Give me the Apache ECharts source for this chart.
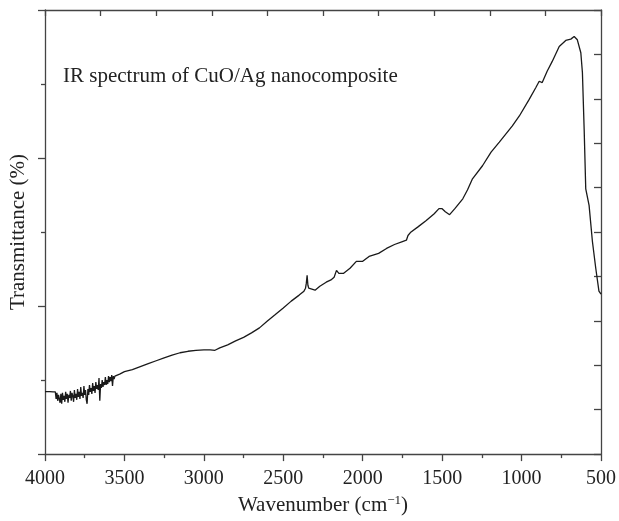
<!DOCTYPE html>
<html>
<head>
<meta charset="utf-8">
<style>
  html, body { margin: 0; padding: 0; background: #fff; }
  #chart { width: 619px; height: 521px; }
</style>
<script src="https://cdn.jsdelivr.net/npm/echarts@6/dist/echarts.min.js"></script>
</head>
<body>
<div id="chart"></div>
<script>
// FT-IR spectrum of the CuO/Ag nanocomposite (wavenumber in cm-1, transmittance in %)
const wavenumbers = [
  4000, 3970, 3950, 3940, 3935, 3930, 3925, 3920, 3915, 3910,
  3905, 3900, 3895, 3890, 3885, 3880, 3875, 3870, 3865, 3860,
  3855, 3850, 3845, 3840, 3835, 3830, 3825, 3820, 3815, 3810,
  3805, 3800, 3795, 3790, 3785, 3780, 3775, 3770, 3765, 3760,
  3755, 3750, 3745, 3740, 3735, 3730, 3725, 3720, 3715, 3710,
  3705, 3700, 3695, 3690, 3685, 3680, 3675, 3670, 3665, 3660,
  3655, 3650, 3645, 3640, 3635, 3630, 3625, 3620, 3615, 3610,
  3605, 3600, 3595, 3590, 3585, 3580, 3575, 3570, 3565, 3560,
  3550, 3530, 3500, 3450, 3400, 3350, 3300, 3250, 3200, 3150,
  3100, 3050, 3000, 2960, 2930, 2900, 2850, 2800, 2750, 2700,
  2650, 2600, 2550, 2500, 2450, 2400, 2370, 2360, 2355, 2350,
  2345, 2340, 2330, 2300, 2270, 2230, 2200, 2180, 2165, 2150,
  2120, 2080, 2040, 2000, 1960, 1900, 1850, 1800, 1750, 1725,
  1715, 1700, 1650, 1600, 1550, 1520, 1500, 1480, 1453, 1420,
  1370, 1340, 1309, 1246, 1192, 1140, 1058, 1014, 952, 910,
  889, 870, 839, 807, 763, 722, 690, 669, 649, 627,
  617, 606, 596, 575, 554, 533, 513, 500
];
const transmittance = [
  6.34, 6.34, 6.30, 6.24, 6.30, 5.60, 6.20, 5.40, 6.00, 5.80,
  5.20, 6.10, 5.10, 6.20, 5.50, 5.90, 5.30, 6.30, 5.60, 6.10,
  5.20, 6.00, 5.70, 6.40, 5.40, 6.20, 5.90, 5.30, 6.50, 5.70,
  6.10, 5.50, 6.60, 5.80, 6.30, 5.60, 6.80, 5.90, 6.20, 5.70,
  6.90, 6.00, 6.50, 5.50, 5.10, 6.60, 6.00, 7.00, 6.30, 6.70,
  6.10, 7.20, 6.40, 6.90, 6.20, 7.30, 6.60, 7.00, 6.50, 7.70,
  5.40, 7.10, 6.70, 7.50, 6.80, 7.30, 7.00, 7.80, 7.00, 7.50,
  7.10, 7.90, 7.30, 7.80, 7.40, 8.00, 6.90, 7.90, 7.60, 7.90,
  7.95, 8.10, 8.36, 8.56, 8.86, 9.16, 9.46, 9.76, 10.02, 10.27,
  10.42, 10.52, 10.57, 10.57, 10.52, 10.77, 11.07, 11.48, 11.83, 12.28,
  12.79, 13.49, 14.14, 14.80, 15.50, 16.11, 16.51, 16.81, 17.32, 18.12,
  17.11, 16.81, 16.61, 16.61, 17.01, 17.42, 17.65, 17.92, 18.62, 18.32,
  18.32, 18.83, 19.53, 19.53, 20.03, 20.34, 20.84, 21.24, 21.54, 21.67,
  22.15, 22.45, 23.05, 23.66, 24.36, 24.87, 24.87, 24.56, 24.26, 24.87,
  25.87, 26.78, 27.89, 29.22, 30.60, 31.61, 33.25, 34.26, 35.94, 37.15,
  37.78, 37.65, 38.79, 39.79, 41.30, 41.91, 42.05, 42.31, 41.98, 40.67,
  38.66, 32.92, 26.88, 25.20, 21.54, 18.83, 16.51, 16.21
];
const xTicks = [4000, 3500, 3000, 2500, 2000, 1500, 1000, 500];

const serif = '"Liberation Serif", "DejaVu Serif", serif';
const axisColor = '#444';
const textColor = '#222';

const chart = echarts.init(document.getElementById('chart'));
chart.setOption({
  animation: false,
  backgroundColor: '#fff',
  grid: { left: 44, right: 17, top: 10, bottom: 64, containLabel: false },
  graphic: [{
    type: 'text',
    left: 63,
    top: 66,
    style: {
      text: 'IR spectrum of CuO/Ag nanocomposite',
      font: '21px ' + serif,
      fill: textColor
    }
  }],
  xAxis: [{
    type: 'value',
    position: 'bottom',
    inverse: true,
    min: 500,
    max: 4000,
    interval: 500,
    name: 'Wavenumber (cm{sup|−1})',
    nameLocation: 'middle',
    nameGap: 38,
    nameTextStyle: {
      fontFamily: serif, fontSize: 21, color: textColor,
      rich: { sup: { fontFamily: serif, fontSize: 13, color: textColor, verticalAlign: 'bottom', padding: [0, 0, 10, 0] } }
    },
    axisLine: { show: true, lineStyle: { color: axisColor, width: 1.3 } },
    axisTick: { show: true, inside: false, length: 7, lineStyle: { color: axisColor, width: 1.3 } },
    minorTick: { show: true, splitNumber: 2, length: 4, lineStyle: { color: axisColor, width: 1.3 } },
    axisLabel: {
      margin: 15, fontFamily: serif, fontSize: 20, color: textColor,
      formatter: v => (xTicks.includes(v) ? String(v) : '')
    },
    splitLine: { show: false }
  }, {
    type: 'value',
    position: 'top',
    min: 0,
    max: 10,
    interval: 1,
    axisLine: { show: true, onZero: false, lineStyle: { color: axisColor, width: 1.3 } },
    axisTick: { show: true, inside: true, length: 6, lineStyle: { color: axisColor, width: 1.3 } },
    axisLabel: { show: false },
    splitLine: { show: false }
  }],
  yAxis: [{
    type: 'value',
    position: 'left',
    min: 0,
    max: 45,
    interval: 15,
    name: 'Transmittance (%)',
    nameLocation: 'middle',
    nameGap: 16,
    nameTextStyle: { fontFamily: serif, fontSize: 21, color: textColor },
    axisLine: { show: true, onZero: false, lineStyle: { color: axisColor, width: 1.3 } },
    axisTick: { show: true, inside: false, length: 7, lineStyle: { color: axisColor, width: 1.3 } },
    minorTick: { show: true, splitNumber: 2, length: 4, lineStyle: { color: axisColor, width: 1.3 } },
    axisLabel: { show: false },
    splitLine: { show: false }
  }, {
    type: 'value',
    position: 'right',
    min: 0,
    max: 10,
    interval: 1,
    axisLine: { show: true, onZero: false, lineStyle: { color: axisColor, width: 1.3 } },
    axisTick: { show: true, inside: true, length: 7, lineStyle: { color: axisColor, width: 1.3 } },
    axisLabel: { show: false },
    splitLine: { show: false }
  }],
  series: [{
    type: 'line',
    xAxisIndex: 0,
    yAxisIndex: 0,
    data: wavenumbers.map((w, i) => [w, transmittance[i]]),
    showSymbol: false,
    smooth: false,
    lineStyle: { color: '#1a1a1a', width: 1.3 }
  }]
});
</script>
</body>
</html>
